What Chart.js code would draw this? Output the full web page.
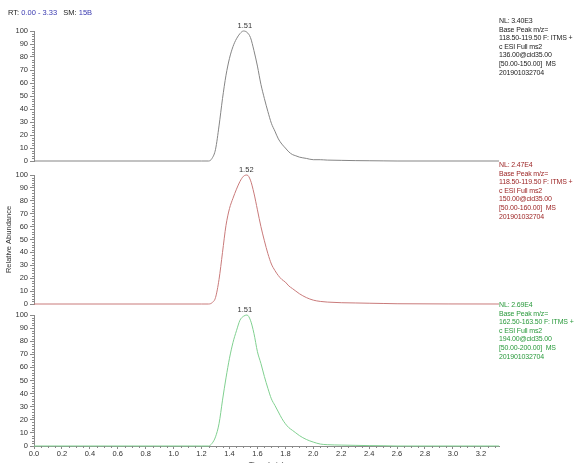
<!DOCTYPE html>
<html>
<head>
<meta charset="utf-8">
<script src="https://cdn.jsdelivr.net/npm/chart.js@4.4.1/dist/chart.umd.min.js"></script>
<style>
  html, body { margin: 0; padding: 0; background: #fff; }
  #wrap { position: relative; width: 574px; height: 463px; overflow: hidden; font-family: "Liberation Sans", Arial, sans-serif; }
  canvas { position: absolute; left: 0; top: 0; }
  .hdr { position: absolute; left: 8px; top: 8px; font-size: 7.5px; color: #222; white-space: pre; }
  .hdr b { font-weight: normal; color: #3a3ab0; }
  .note { position: absolute; left: 499px; font-size: 7px; line-height: 8.6px; letter-spacing: -0.15px; white-space: pre; }
</style>
</head>
<body>
<div id="wrap">
  <canvas id="c1" width="574" height="463"></canvas>
  <canvas id="c2" width="574" height="463"></canvas>
  <canvas id="c3" width="574" height="463"></canvas>
  <div class="hdr">RT: <b>0.00 - 3.33</b>   SM: <b>15B</b></div>
</div>
<script>
// retention time grid (min) shared by the three traces
const times = [0, 1.20, 1.25, 1.275, 1.30, 1.325, 1.35, 1.375, 1.40, 1.425, 1.45, 1.475,
  1.50, 1.525, 1.55, 1.575, 1.60, 1.625, 1.65, 1.675, 1.70, 1.725, 1.75, 1.775,
  1.80, 1.825, 1.85, 1.875, 1.90, 1.95, 2.00, 2.05, 2.10, 2.20, 2.30, 2.40, 2.50, 2.60, 3.33];

// relative abundance (%) per trace
const grayVals = [0, 0, 0, 2, 9, 27, 48, 66, 79, 88, 94, 98,
  100, 99, 95, 85, 73, 59, 48, 38, 29, 23, 17, 13,
  10, 7, 5, 4, 3, 2, 1, 1, 0.7, 0.5, 0.3, 0.2, 0.1, 0, 0];
const redVals = [0, 0, 0, 1, 5, 19, 40, 61, 74, 82, 89, 95,
  99, 100, 96, 86, 73, 60, 49, 39, 31, 26, 22, 19,
  17, 14, 12, 10, 8, 5, 3, 2, 1.5, 1, 0.8, 0.6, 0.4, 0.2, 0];
const greenVals = [0, 0, 0, 2, 7, 17, 35, 52, 67, 79, 88, 96,
  99, 100, 96, 86, 72, 63, 53, 44, 36, 31, 26, 21,
  17, 14, 12, 10, 8, 5, 3, 1.5, 1, 0.7, 0.5, 0.3, 0.2, 0, 0];

const peakTimes = [1.51, 1.52, 1.51];
const peakLabels = ["1.51", "1.52", "1.51"];

const xTickValues = [0, 0.2, 0.4, 0.6, 0.8, 1.0, 1.2, 1.4, 1.6, 1.8, 2.0, 2.2, 2.4, 2.6, 2.8, 3.0, 3.2];
const yTickValues = [0, 10, 20, 30, 40, 50, 60, 70, 80, 90, 100];

const notes = [
  ["NL: 3.40E3", "Base Peak m/z=", "118.50-119.50 F: ITMS +", "c ESI Full ms2", "136.00@cid35.00", "[50.00-150.00]  MS", "201901032704"],
  ["NL: 2.47E4", "Base Peak m/z=", "118.50-119.50 F: ITMS +", "c ESI Full ms2", "150.00@cid35.00", "[50.00-160.00]  MS", "201901032704"],
  ["NL: 2.69E4", "Base Peak m/z=", "162.50-163.50 F: ITMS +", "c ESI Full ms2", "194.00@cid35.00", "[50.00-200.00]  MS", "201901032704"],
];

const lineColors = ["#858585", "#c97a7a", "#80d090"];
const noteColors = ["#222222", "#9a1f1f", "#2a9a3c"];

// panel pixel geometry: y of 100% and y of 0%
const panelTop = [31, 175, 315];
const panelBottom = [161, 304, 446];

const AXIS = "#8a8a8a";
const TXT = "#333";
const FONT = { family: "'Liberation Sans', Arial, sans-serif", size: 7.5 };

// minor tick marks + peak labels
const extras = {
  id: "extras",
  afterDraw(chart, args, opts) {
    const ctx = chart.ctx, x = chart.scales.x, y = chart.scales.y;
    ctx.save();
    ctx.strokeStyle = AXIS;
    ctx.lineWidth = 1;
    ctx.beginPath();
    for (let v = 0; v <= 100; v += 2) {
      if (v % 10 === 0) continue;
      const py = Math.round(y.getPixelForValue(v)) + 0.5;
      ctx.moveTo(y.right - 2, py);
      ctx.lineTo(y.right, py);
    }
    if (opts.showX) {
      for (let i = 0; i <= 66; i++) {
        if (i % 4 === 0) continue;
        const px = Math.round(x.getPixelForValue(i * 0.05)) + 0.5;
        ctx.moveTo(px, x.top);
        ctx.lineTo(px, x.top + 2);
      }
    }
    ctx.stroke();
    ctx.fillStyle = TXT;
    ctx.font = "7.5px 'Liberation Sans', Arial, sans-serif";
    ctx.textAlign = "center";
    ctx.textBaseline = "bottom";
    ctx.fillText(opts.label, x.getPixelForValue(opts.peak), y.getPixelForValue(100) - 1);
    ctx.restore();
  }
};

function makePanel(i, vals) {
  const last = i === 2;
  const el = document.getElementById("c" + (i + 1));
  return new Chart(el, {
    type: "line",
    data: {
      datasets: [{
        data: times.map((t, k) => ({ x: t, y: vals[k] })),
        borderColor: lineColors[i],
        borderWidth: 1,
        pointRadius: 0,
        cubicInterpolationMode: "monotone",
        fill: false,
        clip: false,
      }],
    },
    options: {
      responsive: false,
      animation: false,
      events: [],
      layout: { padding: { left: 0, right: 75, top: panelTop[i], bottom: last ? 0 : 463 - panelBottom[i] } },
      plugins: {
        legend: { display: false },
        tooltip: { enabled: false },
        extras: { showX: last, peak: peakTimes[i], label: peakLabels[i] },
      },
      scales: {
        x: {
          type: "linear",
          min: 0,
          max: 3.33,
          display: last,
          afterBuildTicks: s => { s.ticks = xTickValues.map(v => ({ value: v })); },
          afterFit: s => { s.height = last ? 463 - panelBottom[2] : 0; },
          ticks: { color: TXT, font: FONT, padding: 0, maxRotation: 0, autoSkip: false, callback: v => v.toFixed(1) },
          grid: { drawOnChartArea: false, color: AXIS, tickLength: 3 },
          border: { color: AXIS },
          title: { display: last, text: "Time (min)", color: TXT, font: FONT, padding: { top: 0, bottom: -6 } },
        },
        y: {
          min: 0,
          max: 100,
          afterBuildTicks: s => { s.ticks = yTickValues.map(v => ({ value: v })); },
          afterFit: s => { s.width = 34; },
          ticks: { color: TXT, font: FONT, padding: 2, autoSkip: false },
          grid: { drawOnChartArea: false, color: AXIS, tickLength: 4 },
          border: { color: AXIS },
          title: { display: i === 1, text: "Relative Abundance", color: TXT, font: FONT, padding: { top: 4, bottom: 0 } },
        },
      },
    },
    plugins: [extras],
  });
}

makePanel(0, grayVals);
makePanel(1, redVals);
makePanel(2, greenVals);

const wrap = document.getElementById("wrap");
notes.forEach((lines, i) => {
  const d = document.createElement("div");
  d.className = "note";
  d.style.top = (panelTop[i] - 14) + "px";
  d.style.color = noteColors[i];
  d.textContent = lines.join("\n");
  wrap.appendChild(d);
});
</script>
</body>
</html>
